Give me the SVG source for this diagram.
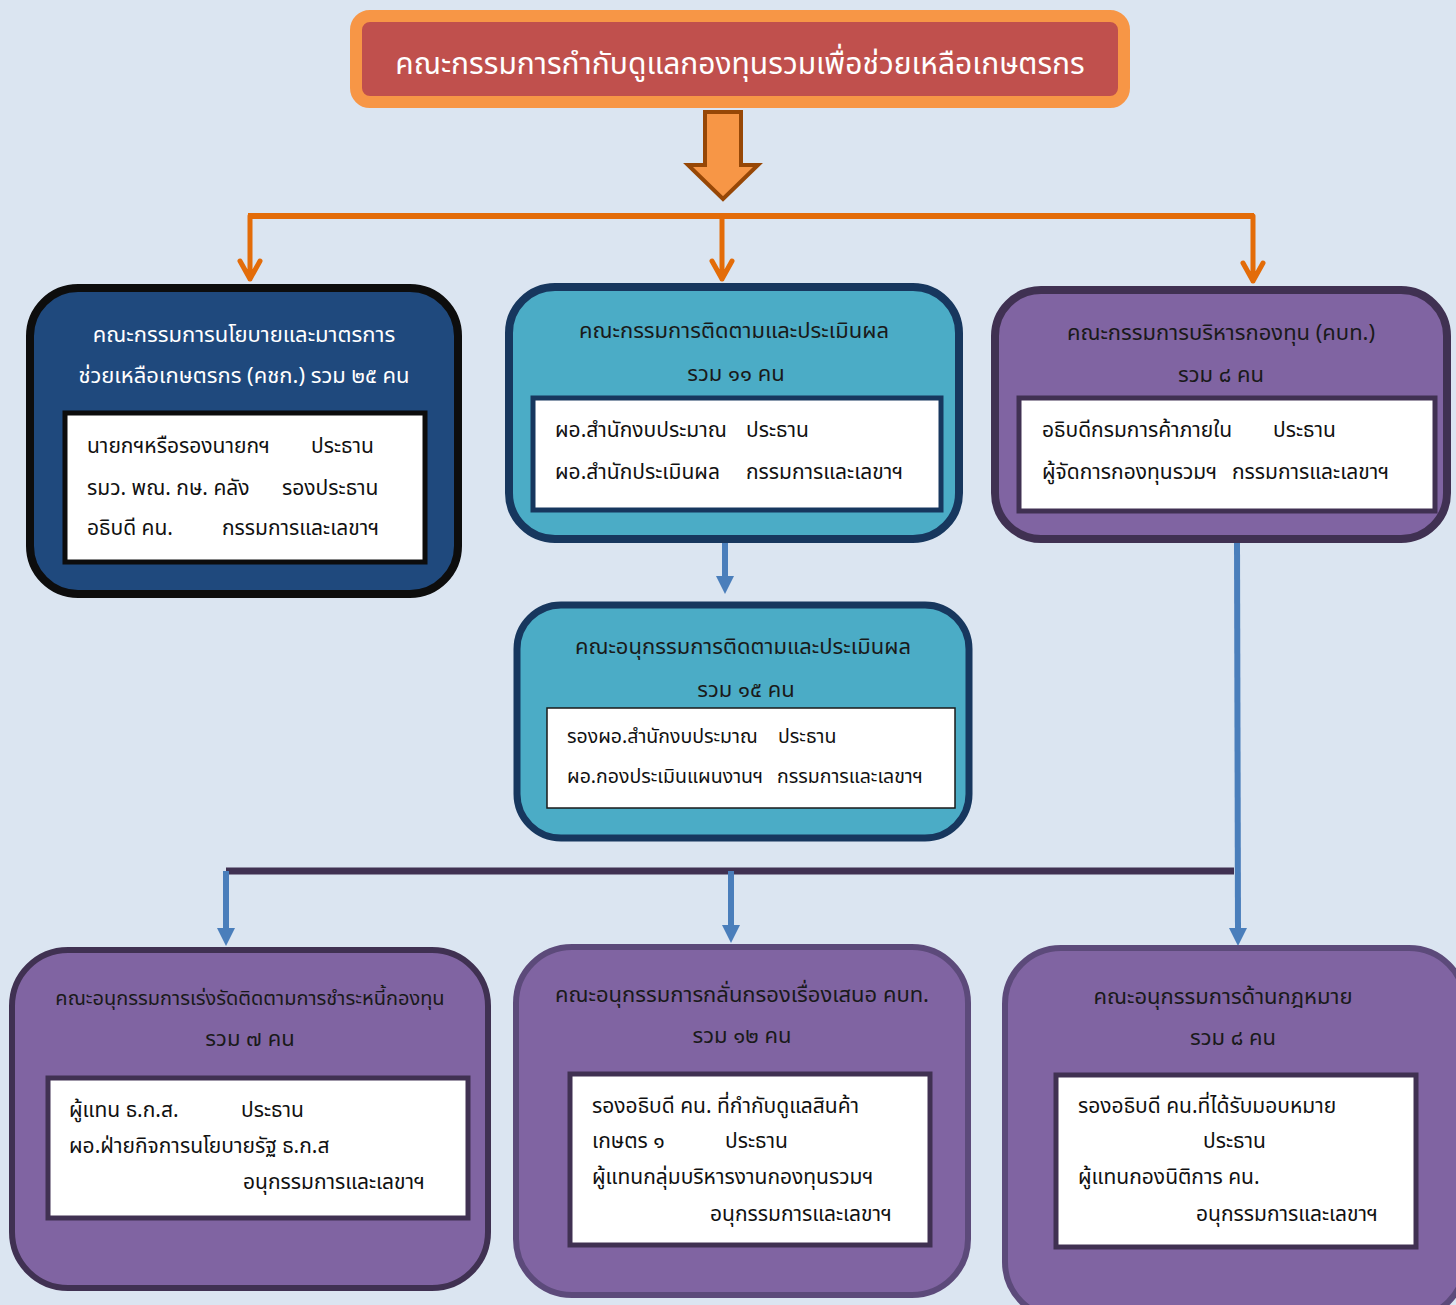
<svg xmlns="http://www.w3.org/2000/svg" width="1456" height="1305" viewBox="0 0 1456 1305">
<defs>
<style>
text{font-family:"Noto Sans Thai","Noto Sans","DejaVu Sans",sans-serif;}
.t{font-size:22px;text-anchor:middle;}
.tw{fill:#ffffff;}
.td{fill:#1a1a1a;}
.b{font-size:21px;fill:#111111;}
.s{font-size:19.5px;}
.inner{fill:#ffffff;}
.orange{stroke:#E36C09;stroke-width:5;fill:none;stroke-linecap:round;stroke-linejoin:round;}
.blue{stroke:#4A7EBB;stroke-width:6;fill:none;}
.bluehead{fill:#4A7EBB;}
</style>
</defs>
<rect x="0" y="0" width="1456" height="1305" fill="#DBE5F1"/>

<g id="title">
<rect x="356" y="16" width="768" height="86" rx="14" fill="#C0504D" stroke="#F79646" stroke-width="12"/>
<text x="740" y="74" text-anchor="middle" font-size="30" fill="#ffffff">คณะกรรมการกำกับดูแลกองทุนรวมเพื่อช่วยเหลือเกษตรกร</text>
</g>

<g id="connectors">
<path d="M705,112 H741 V165 H758 L723,199 L688,165 H705 Z" fill="#F79646" stroke="#974706" stroke-width="4" stroke-linejoin="miter"/>
<path d="M248,216 H1254" stroke="#E36C09" stroke-width="6" fill="none"/>
<path class="orange" d="M250,216 V279 M240,261 L250,279 L260,261"/>
<path class="orange" d="M722,216 V279 M712,261 L722,279 L732,261"/>
<path class="orange" d="M1253,216 V281 M1243,263 L1253,281 L1263,263"/>
<path class="blue" d="M725,542 V578"/>
<path class="bluehead" d="M716,576 L734,576 L725,594 Z"/>
<path class="blue" d="M1237,542 L1238,930"/>
<path class="bluehead" d="M1229,928 L1247,928 L1238,946 Z"/>
<path d="M226,871 H1234" stroke="#403152" stroke-width="7" fill="none"/>
<path class="blue" d="M226,871 V930"/>
<path class="bluehead" d="M217,928 L235,928 L226,946 Z"/>
<path class="blue" d="M731,871 V927"/>
<path class="bluehead" d="M722,925 L740,925 L731,943 Z"/>
</g>

<g id="policy">
<rect x="30" y="288" width="428" height="306" rx="48" fill="#1F497D" stroke="#0D0D0D" stroke-width="8"/>
<text class="t tw" x="244" y="342">คณะกรรมการนโยบายและมาตรการ</text>
<text class="t tw" x="244" y="383">ช่วยเหลือเกษตรกร (คชก.) รวม ๒๕  คน</text>
<rect class="inner" x="65" y="413" width="360" height="149" stroke="#0D0D0D" stroke-width="5"/>
<text class="b" x="87" y="453">นายกฯหรือรองนายกฯ</text>
<text class="b" x="311" y="453">ประธาน</text>
<text class="b" x="87" y="495">รมว. พณ. กษ. คลัง</text>
<text class="b" x="282" y="495">รองประธาน</text>
<text class="b" x="87" y="535">อธิบดี คน.</text>
<text class="b" x="222" y="535">กรรมการและเลขาฯ</text>
</g>

<g id="monitor">
<rect x="509" y="287" width="450" height="252" rx="46" fill="#4BACC6" stroke="#17375E" stroke-width="8"/>
<text class="t td" x="734" y="338">คณะกรรมการติดตามและประเมินผล</text>
<text class="t td" x="736" y="381">รวม ๑๑ คน</text>
<rect class="inner" x="533" y="398" width="408" height="112" stroke="#17375E" stroke-width="5"/>
<text class="b" x="555" y="437">ผอ.สำนักงบประมาณ</text>
<text class="b" x="746" y="437">ประธาน</text>
<text class="b" x="555" y="479">ผอ.สำนักประเมินผล</text>
<text class="b" x="746" y="479">กรรมการและเลขาฯ</text>
</g>

<g id="submonitor">
<rect x="517" y="605" width="452" height="233" rx="44" fill="#4BACC6" stroke="#17375E" stroke-width="7"/>
<text class="t td" x="743" y="654">คณะอนุกรรมการติดตามและประเมินผล</text>
<text class="t td" x="746" y="697">รวม ๑๕ คน</text>
<rect class="inner" x="547" y="708" width="408" height="100" stroke="#1a1a1a" stroke-width="1.5"/>
<text class="b s" x="567" y="743">รองผอ.สำนักงบประมาณ</text>
<text class="b s" x="778" y="743">ประธาน</text>
<text class="b s" x="567" y="783">ผอ.กองประเมินแผนงานฯ</text>
<text class="b s" x="777" y="783">กรรมการและเลขาฯ</text>
</g>

<g id="fundadmin">
<rect x="995" y="290" width="452" height="249" rx="46" fill="#8064A2" stroke="#403152" stroke-width="8"/>
<text class="t td" x="1221" y="340">คณะกรรมการบริหารกองทุน (คบท.)</text>
<text class="t td" x="1221" y="382">รวม ๘ คน</text>
<rect class="inner" x="1019" y="398" width="416" height="113" stroke="#403152" stroke-width="5"/>
<text class="b" x="1042" y="437">อธิบดีกรมการค้าภายใน</text>
<text class="b" x="1273" y="437">ประธาน</text>
<text class="b" x="1042" y="479">ผู้จัดการกองทุนรวมฯ</text>
<text class="b" x="1232" y="479">กรรมการและเลขาฯ</text>
</g>

<g id="debt">
<rect x="12" y="950" width="476" height="338" rx="56" fill="#8064A2" stroke="#403152" stroke-width="6"/>
<text class="t td" x="250" y="1005" style="font-size:20px">คณะอนุกรรมการเร่งรัดติดตามการชำระหนี้กองทุน</text>
<text class="t td" x="250" y="1046">รวม ๗ คน</text>
<rect class="inner" x="48" y="1078" width="420" height="140" stroke="#403152" stroke-width="5"/>
<text class="b" x="69" y="1117">ผู้แทน ธ.ก.ส.</text>
<text class="b" x="241" y="1117">ประธาน</text>
<text class="b" x="69" y="1153">ผอ.ฝ่ายกิจการนโยบายรัฐ ธ.ก.ส</text>
<text class="b" x="243" y="1189">อนุกรรมการและเลขาฯ</text>
</g>

<g id="screening">
<rect x="516" y="947" width="452" height="348" rx="56" fill="#8064A2" stroke="#5C4A7A" stroke-width="6"/>
<text class="t td" x="742" y="1002">คณะอนุกรรมการกลั่นกรองเรื่องเสนอ คบท.</text>
<text class="t td" x="742" y="1043">รวม ๑๒ คน</text>
<rect class="inner" x="570" y="1074" width="360" height="171" stroke="#403152" stroke-width="5"/>
<text class="b" x="592" y="1113">รองอธิบดี คน. ที่กำกับดูแลสินค้า</text>
<text class="b" x="592" y="1148">เกษตร ๑</text>
<text class="b" x="725" y="1148">ประธาน</text>
<text class="b" x="592" y="1184">ผู้แทนกลุ่มบริหารงานกองทุนรวมฯ</text>
<text class="b" x="710" y="1221">อนุกรรมการและเลขาฯ</text>
</g>

<g id="legal">
<rect x="1005" y="948" width="460" height="370" rx="56" fill="#8064A2" stroke="#5C4A7A" stroke-width="6"/>
<text class="t td" x="1223" y="1004">คณะอนุกรรมการด้านกฎหมาย</text>
<text class="t td" x="1233" y="1045">รวม ๘ คน</text>
<rect class="inner" x="1056" y="1075" width="360" height="172" stroke="#403152" stroke-width="5"/>
<text class="b" x="1078" y="1113">รองอธิบดี คน.ที่ได้รับมอบหมาย</text>
<text class="b" x="1203" y="1148">ประธาน</text>
<text class="b" x="1078" y="1184">ผู้แทนกองนิติการ คน.</text>
<text class="b" x="1196" y="1221">อนุกรรมการและเลขาฯ</text>
</g>
</svg>
